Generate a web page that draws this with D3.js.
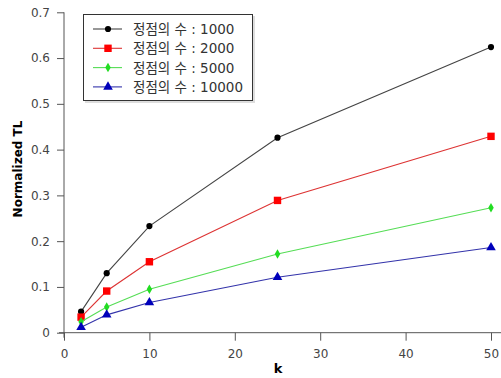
<!DOCTYPE html>
<html>
<head>
<meta charset="utf-8">
<script src="https://cdn.jsdelivr.net/npm/d3@7"></script>
<style>
body { margin: 0; background: #fff; }
svg { display: block; font-family: "DejaVu Sans", sans-serif; }
</style>
</head>
<body>
<svg id="ChartSvg" width="501" height="378"></svg>
<script>
var kValues = [2, 5, 10, 25, 50]
var seriesNames = ['정점의 수 : 1000', '정점의 수 : 2000', '정점의 수 : 5000', '정점의 수 : 10000']
var tl1000 = [0.046, 0.130, 0.233, 0.426, 0.624]
var tl2000 = [0.034, 0.091, 0.155, 0.289, 0.429]
var tl5000 = [0.024, 0.056, 0.095, 0.172, 0.273]
var tl10000 = [0.012, 0.039, 0.066, 0.121, 0.186]
var xTicks = [0, 10, 20, 30, 40, 50]
var yTicks = [0, 0.1, 0.2, 0.3, 0.4, 0.5, 0.6, 0.7]

var svg = d3.select("#ChartSvg")
var Left = 64, Right = 491, Top = 12.3, Bottom = 332.7

var x = d3.scaleLinear().domain([0, 50]).range([Left, Right])
var y = d3.scaleLinear().domain([0, 0.7]).range([Bottom, Top])

var axisColor = '#555'
var labelColor = '#444'

// minor ticks
var gx = svg.append('g').attr('transform', `translate(0,${Bottom})`)
gx.call(d3.axisBottom(x).tickValues(d3.range(0, 51, 2)).tickSize(4).tickFormat(''))
gx.call(d3.axisBottom(x).tickValues(xTicks).tickSize(8).tickPadding(9).tickFormat(d3.format('d')))
gx.selectAll('.domain').remove()
gx.selectAll('line').attr('stroke', axisColor)
gx.selectAll('text').attr('fill', labelColor).style('font-size', '12px').style('font-family', 'DejaVu Sans')
svg.append('line')
    .attr('x1', Left - 5).attr('x2', 501)
    .attr('y1', Bottom).attr('y2', Bottom)
    .attr('stroke', axisColor)

var gy = svg.append('g').attr('transform', `translate(${Left},0)`)
gy.call(d3.axisLeft(y).tickValues(d3.range(0, 36).map(i => i * 0.02)).tickSize(4).tickFormat(''))
gy.call(d3.axisLeft(y).tickValues(yTicks).tickSize(7).tickPadding(7).tickFormat(d => d === 0 ? '0' : d3.format('.1f')(d)))
gy.selectAll('.domain').remove()
gy.selectAll('line').attr('stroke', axisColor)
gy.selectAll('text').attr('fill', labelColor).style('font-size', '12px').style('font-family', 'DejaVu Sans')
svg.append('line')
    .attr('x1', Left).attr('x2', Left)
    .attr('y1', Top).attr('y2', Bottom + 5)
    .attr('stroke', axisColor)

svg.append('text')
    .attr('transform', 'translate(22,169) rotate(-90)')
    .attr('text-anchor', 'middle')
    .style('font-size', '12px').style('font-weight', 'bold')
    .text('Normalized TL')
svg.append('text')
    .attr('x', 278).attr('y', 373)
    .attr('text-anchor', 'middle')
    .style('font-size', '13px').style('font-weight', 'bold')
    .text('k')

var allSeries = [tl1000, tl2000, tl5000, tl10000]
var lineColors = ['#444', '#d33', '#5d5', '#33a']
var markColors = ['#000', '#f00', '#2d2', '#00b']
var symbols = [d3.symbolCircle, d3.symbolSquare, d3.symbolDiamond, d3.symbolTriangle]
var symSizes = [30, 55, 26, 40]

var line = d3.line().x((d, i) => x(kValues[i])).y(d => y(d))

for (var s = 0; s < allSeries.length; s++) {
    svg.append('path')
        .datum(allSeries[s])
        .attr('fill', 'none')
        .attr('stroke', lineColors[s])
        .attr('stroke-width', 1.1)
        .attr('d', line)
    svg.selectAll('.mk' + s)
        .data(allSeries[s])
        .enter().append('path')
        .attr('class', 'mk' + s)
        .attr('transform', (d, i) => `translate(${x(kValues[i])},${y(d)})`)
        .attr('d', d3.symbol().type(symbols[s]).size(symSizes[s]))
        .attr('fill', markColors[s])
}

// legend
var lg = svg.append('g')
lg.append('rect')
    .attr('x', 85).attr('y', 16).attr('width', 170).attr('height', 87)
    .attr('fill', '#ddd')
lg.append('rect')
    .attr('x', 83.5).attr('y', 14.5).attr('width', 169).attr('height', 86)
    .attr('fill', '#fff').attr('stroke', '#333')
for (var i = 0; i < seriesNames.length; i++) {
    var ly = 29 + i * 19.3
    lg.append('line')
        .attr('x1', 93).attr('x2', 122).attr('y1', ly).attr('y2', ly)
        .attr('stroke', lineColors[i]).attr('stroke-width', 1.1)
    lg.append('path')
        .attr('transform', `translate(108,${ly})`)
        .attr('d', d3.symbol().type(symbols[i]).size(symSizes[i]))
        .attr('fill', markColors[i])
    lg.append('text')
        .attr('x', 133).attr('y', ly + 5)
        .attr('fill', '#333')
        .style('font-size', '13.5px')
        .style('font-family', '"DejaVu Sans", "Noto Sans CJK KR", sans-serif')
        .text(seriesNames[i])
}
</script>
</body>
</html>
